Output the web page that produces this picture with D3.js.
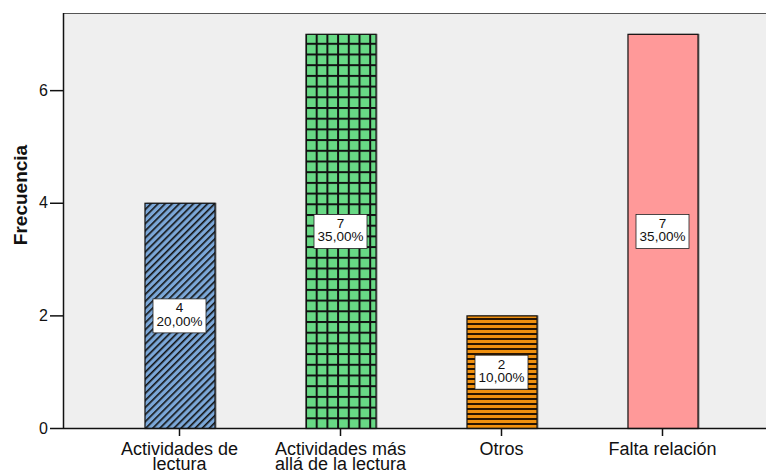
<!DOCTYPE html>
<html>
<head>
<meta charset="utf-8">
<script src="https://cdn.jsdelivr.net/npm/d3@7"></script>
<style>
  body { margin: 0; background: #fff; }
  svg { display: block; font-family: "Liberation Sans", Arial, sans-serif; }
</style>
</head>
<body>
<div id="chart"></div>
<script>
const categories = [["Actividades de", "lectura"], ["Actividades más", "allá de la lectura"], ["Otros"], ["Falta relación"]]
const counts = [4, 7, 2, 7]
const percents = ["20,00%", "35,00%", "10,00%", "35,00%"]
const yTicks = [0, 2, 4, 6]
const fills = ["url(#diag)", "url(#grid)", "url(#hstripe)", "#ff9999"]

const width = 766, height = 470
const plotLeft = 63, plotTop = 13, plotBottom = 428

const svg = d3.select("#chart").append("svg")
    .attr("width", width)
    .attr("height", height)

// patterns
const defs = svg.append("defs")
const diag = defs.append("pattern")
    .attr("id", "diag")
    .attr("patternUnits", "userSpaceOnUse")
    .attr("width", 5).attr("height", 5)
    .attr("patternTransform", "rotate(45)")
diag.append("rect").attr("width", 5).attr("height", 5).attr("fill", "#7ba7d8")
diag.append("rect").attr("x", 0).attr("width", 1.6).attr("height", 5).attr("fill", "#111")

const grid = defs.append("pattern")
    .attr("id", "grid")
    .attr("patternUnits", "userSpaceOnUse")
    .attr("x", 305).attr("y", 0)
    .attr("width", 10.7).attr("height", 10.7)
grid.append("rect").attr("width", 10.7).attr("height", 10.7).attr("fill", "#68d985")
grid.append("rect").attr("width", 2).attr("height", 10.7).attr("fill", "#111")
grid.append("rect").attr("width", 10.7).attr("height", 2).attr("fill", "#111")

const hs = defs.append("pattern")
    .attr("id", "hstripe")
    .attr("patternUnits", "userSpaceOnUse")
    .attr("width", 10).attr("height", 5)
hs.append("rect").attr("width", 10).attr("height", 5).attr("fill", "#f0900f")
hs.append("rect").attr("y", 3).attr("width", 10).attr("height", 2).attr("fill", "#2a1500")

const x = d3.scaleBand()
    .domain(d3.range(categories.length))
    .range([99, 743])
    .paddingInner(0.565)
    .paddingOuter(0.2825)

const y = d3.scaleLinear()
    .domain([0, 7.37])
    .range([plotBottom, plotTop])

// plot background
svg.append("rect")
    .attr("x", plotLeft).attr("y", plotTop)
    .attr("width", width - plotLeft).attr("height", plotBottom - plotTop)
    .attr("fill", "#efefef")
svg.append("line")
    .attr("x1", plotLeft).attr("x2", width)
    .attr("y1", plotTop + 0.5).attr("y2", plotTop + 0.5)
    .attr("stroke", "#555")

// bars
const bars = svg.append("g")
bars.selectAll("rect.shadow")
    .data(counts)
    .enter().append("rect")
    .attr("class", "shadow")
    .attr("x", (d, i) => x(i) + 2)
    .attr("y", d => y(d))
    .attr("width", x.bandwidth())
    .attr("height", d => y(0) - y(d))
    .attr("fill", "#888")
bars.selectAll("rect.bar")
    .data(counts)
    .enter().append("rect")
    .attr("class", "bar")
    .attr("x", (d, i) => x(i) + 0.5)
    .attr("y", d => y(d) + 0.5)
    .attr("width", x.bandwidth())
    .attr("height", d => y(0) - y(d))
    .attr("fill", (d, i) => fills[i])
    .attr("stroke", "#111")
    .attr("stroke-width", 1.2)

// value labels
const labels = svg.append("g")
    .selectAll("g")
    .data(counts)
    .enter().append("g")
    .attr("transform", (d, i) => `translate(${x(i) + x.bandwidth() / 2},${y(d / 2)})`)
labels.append("rect")
    .attr("x", -26.5).attr("y", -16.5)
    .attr("width", 53).attr("height", 34)
    .attr("fill", "#fff")
    .attr("stroke", "#222")
    .attr("stroke-width", 0.8)
labels.append("text")
    .attr("text-anchor", "middle")
    .attr("y", -3)
    .style("font-size", "13.5px")
    .attr("fill", "#111")
    .text(d => d)
labels.append("text")
    .attr("text-anchor", "middle")
    .attr("y", 10.5)
    .style("font-size", "13.5px")
    .attr("fill", "#111")
    .text((d, i) => percents[i])

// y axis
const yAxis = svg.append("g")
    .attr("transform", `translate(${plotLeft},0)`)
    .call(d3.axisLeft(y).tickValues(yTicks).tickSize(13).tickPadding(2).tickFormat(d3.format("d")))
yAxis.select(".domain").attr("d", `M0.5,${plotTop}V${plotBottom}`).attr("stroke", "#111").attr("stroke-width", 1.5)
yAxis.selectAll(".tick line").attr("stroke", "#111").attr("stroke-width", 1.5)
yAxis.selectAll(".tick text").style("font-size", "16px").attr("fill", "#111").attr("font-family", "Liberation Sans, Arial, sans-serif")

// x axis
const xAxis = svg.append("g")
    .attr("transform", `translate(0,${plotBottom})`)
    .call(d3.axisBottom(x).tickSize(8).tickFormat(""))
xAxis.select(".domain").attr("d", `M${plotLeft},0.5H${width}`).attr("stroke", "#111").attr("stroke-width", 1.5)
xAxis.selectAll(".tick line").attr("stroke", "#111").attr("stroke-width", 1.5)
xAxis.selectAll(".tick").each(function (d) {
    const t = d3.select(this).append("text")
        .attr("text-anchor", "middle")
        .attr("fill", "#111")
        .attr("font-family", "Liberation Sans, Arial, sans-serif")
        .style("font-size", "18px")
    categories[d].forEach((line, k) => {
        t.append("tspan").attr("x", 0).attr("y", 27 + k * 15).text(line)
    })
})

// y title
svg.append("text")
    .attr("transform", `translate(27,195) rotate(-90)`)
    .attr("text-anchor", "middle")
    .style("font-size", "19px")
    .style("font-weight", "bold")
    .attr("fill", "#111")
    .text("Frecuencia")
</script>
</body>
</html>
